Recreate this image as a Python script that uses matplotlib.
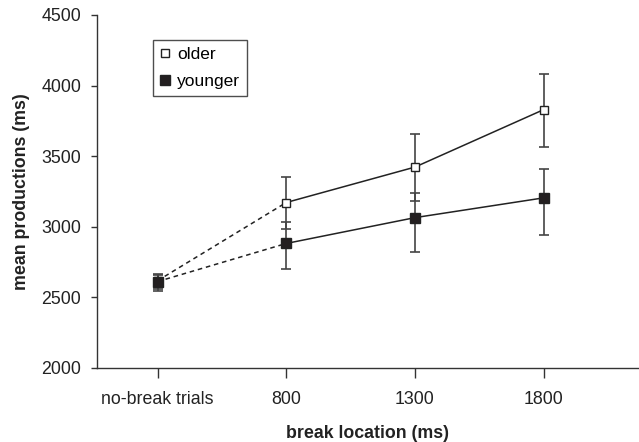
import numpy as np
import matplotlib
matplotlib.use('Agg')
import matplotlib.pyplot as plt
from matplotlib.lines import Line2D

categories = ['no-break trials', '800', '1300', '1800']
older = [2618, 3172, 3423, 3830]
older_lo = [2560, 2985, 3180, 3565]
older_hi = [2665, 3355, 3658, 4085]
younger = [2612, 2882, 3065, 3205]
younger_lo = [2548, 2698, 2820, 2945]
younger_hi = [2660, 3035, 3238, 3410]


def main():
    plt.rcParams['font.family'] = ['Liberation Sans', 'DejaVu Sans']
    fig = plt.figure(figsize=(6.39, 4.42), dpi=100)
    ax = fig.add_axes([97 / 639, 1 - 368 / 442, 542 / 639, 353 / 442])

    x = np.arange(len(categories))
    line_c = '#222222'
    err_c = '#444444'

    for vals, lo, hi, face, ms in [(older, older_lo, older_hi, 'white', 5.5),
                                   (younger, younger_lo, younger_hi, '#231f20', 6.5)]:
        vals = np.array(vals)
        yerr = [vals - np.array(lo), np.array(hi) - vals]
        ax.errorbar(x, vals, yerr=yerr, fmt='none', ecolor=err_c, elinewidth=1.2,
                    capsize=3.5, capthick=1.2, zorder=2)
        ax.plot(x[:2], vals[:2], linestyle=(0, (3, 2.5)), color=line_c, lw=1.1, zorder=3)
        ax.plot(x[1:], vals[1:], '-', color=line_c, lw=1.1, zorder=3)
        ax.plot(x, vals, 's', ms=ms, mfc=face, mec=line_c, mew=1.0, zorder=4)

    ax.set_xlim(-0.47, 3.74)
    ax.set_ylim(2000, 4500)
    ax.set_xticks(x)
    ax.set_xticklabels(categories)
    ax.set_yticks(np.arange(2000, 4501, 500))

    for s in ['top', 'right']:
        ax.spines[s].set_visible(False)
    for s in ['left', 'bottom']:
        ax.spines[s].set_color('#333333')
        ax.spines[s].set_linewidth(1.0)
    ax.tick_params(axis='x', length=7, width=1, color='#333333', pad=9.5, labelsize=12.8,
                   labelcolor='#222222')
    ax.tick_params(axis='y', length=4.5, width=1, color='#333333', pad=7, labelsize=12.8,
                   labelcolor='#222222')

    ax.set_xlabel('break location (ms)', fontsize=12.8, fontweight='bold', labelpad=12,
                  color='#222222')
    ax.set_ylabel('mean productions (ms)', fontsize=12.8, fontweight='bold', labelpad=8,
                  color='#222222')

    handles = [Line2D([], [], ls='none', marker='s', ms=5.5, mfc='white', mec=line_c, mew=1.0),
               Line2D([], [], ls='none', marker='s', ms=6.5, mfc='#231f20', mec=line_c, mew=1.0)]
    leg = ax.legend(handles, ['older', 'younger'], loc='upper left',
                    bbox_to_anchor=(0.103, 0.929), borderaxespad=0, fontsize=12.5,
                    frameon=True, fancybox=False, handlelength=0.6, handletextpad=0.4,
                    labelspacing=0.65, borderpad=0.4)
    leg.get_frame().set_edgecolor('#222222')
    leg.get_frame().set_linewidth(1.0)

    fig.savefig('out.png', dpi=100)


if __name__ == '__main__':
    main()
